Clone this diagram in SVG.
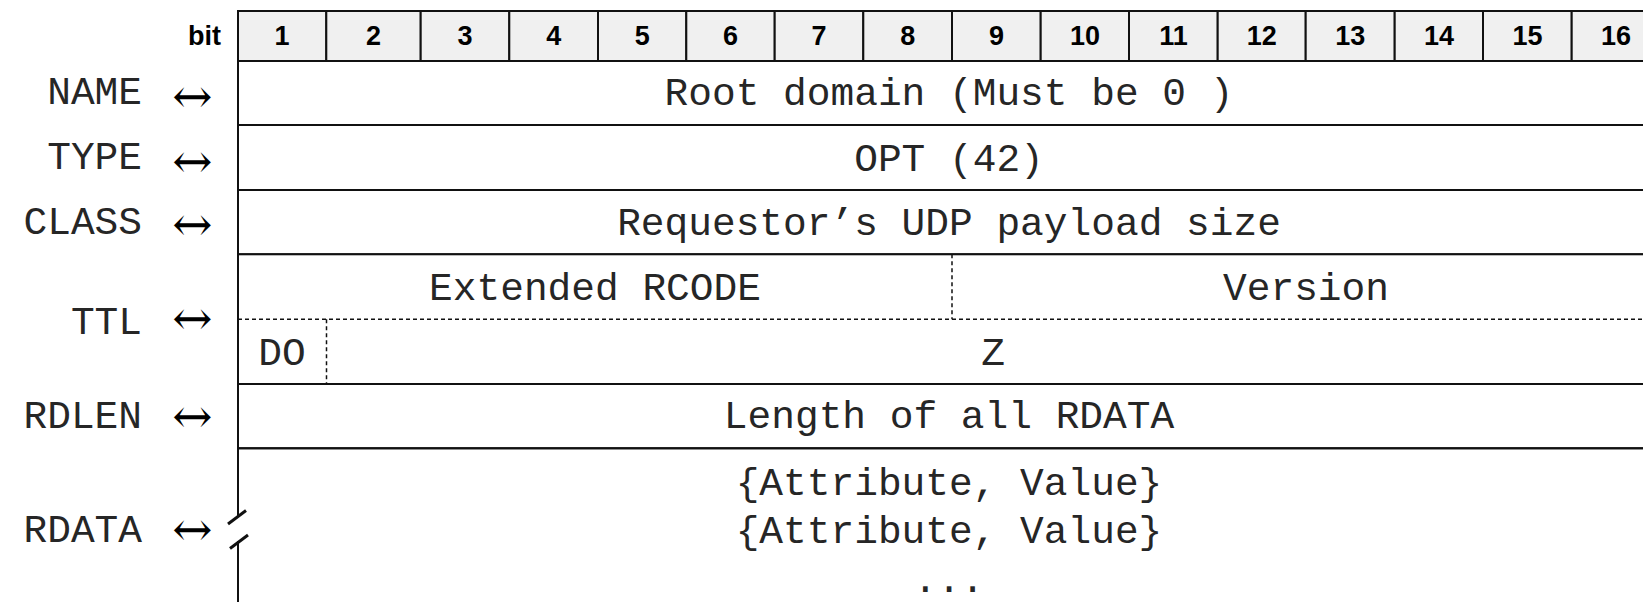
<svg xmlns="http://www.w3.org/2000/svg" width="1643" height="602" viewBox="0 0 1643 602">
  <style>
    .cell { fill: #ffffff; stroke: #111111; stroke-width: 2; }
    .head { fill: #f0f0f0; stroke: #111111; stroke-width: 2; }
    .dash { fill: none; stroke: #111111; stroke-width: 1.5; stroke-dasharray: 4 3; }
    .edge { fill: none; stroke: #111111; stroke-width: 2; }
    .brk { fill: none; stroke: #111111; stroke-width: 3; }
    .num { font-family: "Liberation Sans", Arial, sans-serif; font-weight: bold; font-size: 27px; fill: #000; text-anchor: middle; }
    .bit { font-family: "Liberation Sans", Arial, sans-serif; font-weight: bold; font-size: 27px; fill: #000; text-anchor: end; }
    .mono { font-family: "Liberation Mono", "Courier New", monospace; font-size: 39.5px; fill: #262626; text-anchor: middle; }
    .lbl { font-family: "Liberation Mono", "Courier New", monospace; font-size: 39.5px; fill: #262626; text-anchor: end; }
    .arr { font-family: "DejaVu Serif", serif; font-size: 48px; fill: #000; text-anchor: middle; }
  </style>

  <!-- bit ruler -->
  <g id="ruler">
    <text class="bit" x="221" y="45">bit</text>
    <rect class="head" x="238" y="11" width="88.3" height="50"/>
    <rect class="head" x="326.3" y="11" width="94.4" height="50"/>
    <rect class="head" x="420.7" y="11" width="88.6" height="50"/>
    <rect class="head" x="509.3" y="11" width="88.7" height="50"/>
    <rect class="head" x="598" y="11" width="88.3" height="50"/>
    <rect class="head" x="686.3" y="11" width="88.4" height="50"/>
    <rect class="head" x="774.7" y="11" width="88.6" height="50"/>
    <rect class="head" x="863.3" y="11" width="88.7" height="50"/>
    <rect class="head" x="952" y="11" width="88.7" height="50"/>
    <rect class="head" x="1040.7" y="11" width="88.3" height="50"/>
    <rect class="head" x="1129" y="11" width="88.7" height="50"/>
    <rect class="head" x="1217.7" y="11" width="88" height="50"/>
    <rect class="head" x="1305.7" y="11" width="89" height="50"/>
    <rect class="head" x="1394.7" y="11" width="88.3" height="50"/>
    <rect class="head" x="1483" y="11" width="88.7" height="50"/>
    <rect class="head" x="1571.7" y="11" width="88.6" height="50"/>
    <text class="num" x="282" y="45">1</text>
    <text class="num" x="373.5" y="45">2</text>
    <text class="num" x="465" y="45">3</text>
    <text class="num" x="553.7" y="45">4</text>
    <text class="num" x="642.2" y="45">5</text>
    <text class="num" x="730.5" y="45">6</text>
    <text class="num" x="819" y="45">7</text>
    <text class="num" x="907.7" y="45">8</text>
    <text class="num" x="996.4" y="45">9</text>
    <text class="num" x="1084.9" y="45">10</text>
    <text class="num" x="1173.4" y="45">11</text>
    <text class="num" x="1261.7" y="45">12</text>
    <text class="num" x="1350.2" y="45">13</text>
    <text class="num" x="1438.9" y="45">14</text>
    <text class="num" x="1527.4" y="45">15</text>
    <text class="num" x="1616" y="45">16</text>
  </g>

  <!-- NAME -->
  <g id="name">
    <rect class="cell" x="238" y="61" width="1422" height="64"/>
    <text class="mono" x="949" y="105">Root domain (Must be 0 )</text>
  </g>

  <!-- TYPE -->
  <g id="type">
    <rect class="cell" x="238" y="125" width="1422" height="65"/>
    <text class="mono" x="949" y="171">OPT (42)</text>
  </g>

  <!-- CLASS -->
  <g id="class">
    <rect class="cell" x="238" y="190" width="1422" height="64.3"/>
    <text class="mono" x="949" y="235">Requestor’s UDP payload size</text>
  </g>

  <!-- TTL: extended RCODE / version, DO flag / Z -->
  <g id="ttl">
    <rect class="cell" x="238" y="254.3" width="1422" height="129.7"/>
    <line class="dash" x1="238" y1="319.3" x2="1660" y2="319.3"/>
    <line class="dash" x1="952" y1="254.3" x2="952" y2="319.3"/>
    <line class="dash" x1="326.5" y1="319.3" x2="326.5" y2="384"/>
    <text class="mono" x="595" y="300">Extended RCODE</text>
    <text class="mono" x="1306" y="300">Version</text>
    <text class="mono" x="282" y="365">DO</text>
    <text class="mono" x="993" y="365">Z</text>
  </g>

  <!-- RDLEN -->
  <g id="rdlen">
    <rect class="cell" x="238" y="384" width="1422" height="64.3"/>
    <text class="mono" x="949" y="428">Length of all RDATA</text>
  </g>

  <!-- RDATA, open-ended with a break mark on the left edge -->
  <g id="rdata">
    <line class="edge" x1="238" y1="448.3" x2="1660" y2="448.3"/>
    <line class="edge" x1="238" y1="448.3" x2="238" y2="517"/>
    <line class="edge" x1="238" y1="541" x2="238" y2="602"/>
    <line class="brk" x1="228" y1="524" x2="246" y2="510.5"/>
    <line class="brk" x1="230" y1="548.5" x2="248" y2="535"/>
    <text class="mono" x="949" y="495">{Attribute, Value}</text>
    <text class="mono" x="949" y="543">{Attribute, Value}</text>
    <text class="mono" x="949" y="592">...</text>
  </g>

  <!-- field names with their two-way arrows -->
  <g id="labels">
    <text class="lbl" x="142" y="104">NAME</text>
    <text class="lbl" x="142" y="169">TYPE</text>
    <text class="lbl" x="142" y="234">CLASS</text>
    <text class="lbl" x="142" y="334">TTL</text>
    <text class="lbl" x="142" y="428">RDLEN</text>
    <text class="lbl" x="142" y="542">RDATA</text>
    <text class="arr" x="192.3" y="113">↔</text>
    <text class="arr" x="192.3" y="178">↔</text>
    <text class="arr" x="192.3" y="241">↔</text>
    <text class="arr" x="192.3" y="335">↔</text>
    <text class="arr" x="192.3" y="433">↔</text>
    <text class="arr" x="192.3" y="546">↔</text>
  </g>
</svg>
